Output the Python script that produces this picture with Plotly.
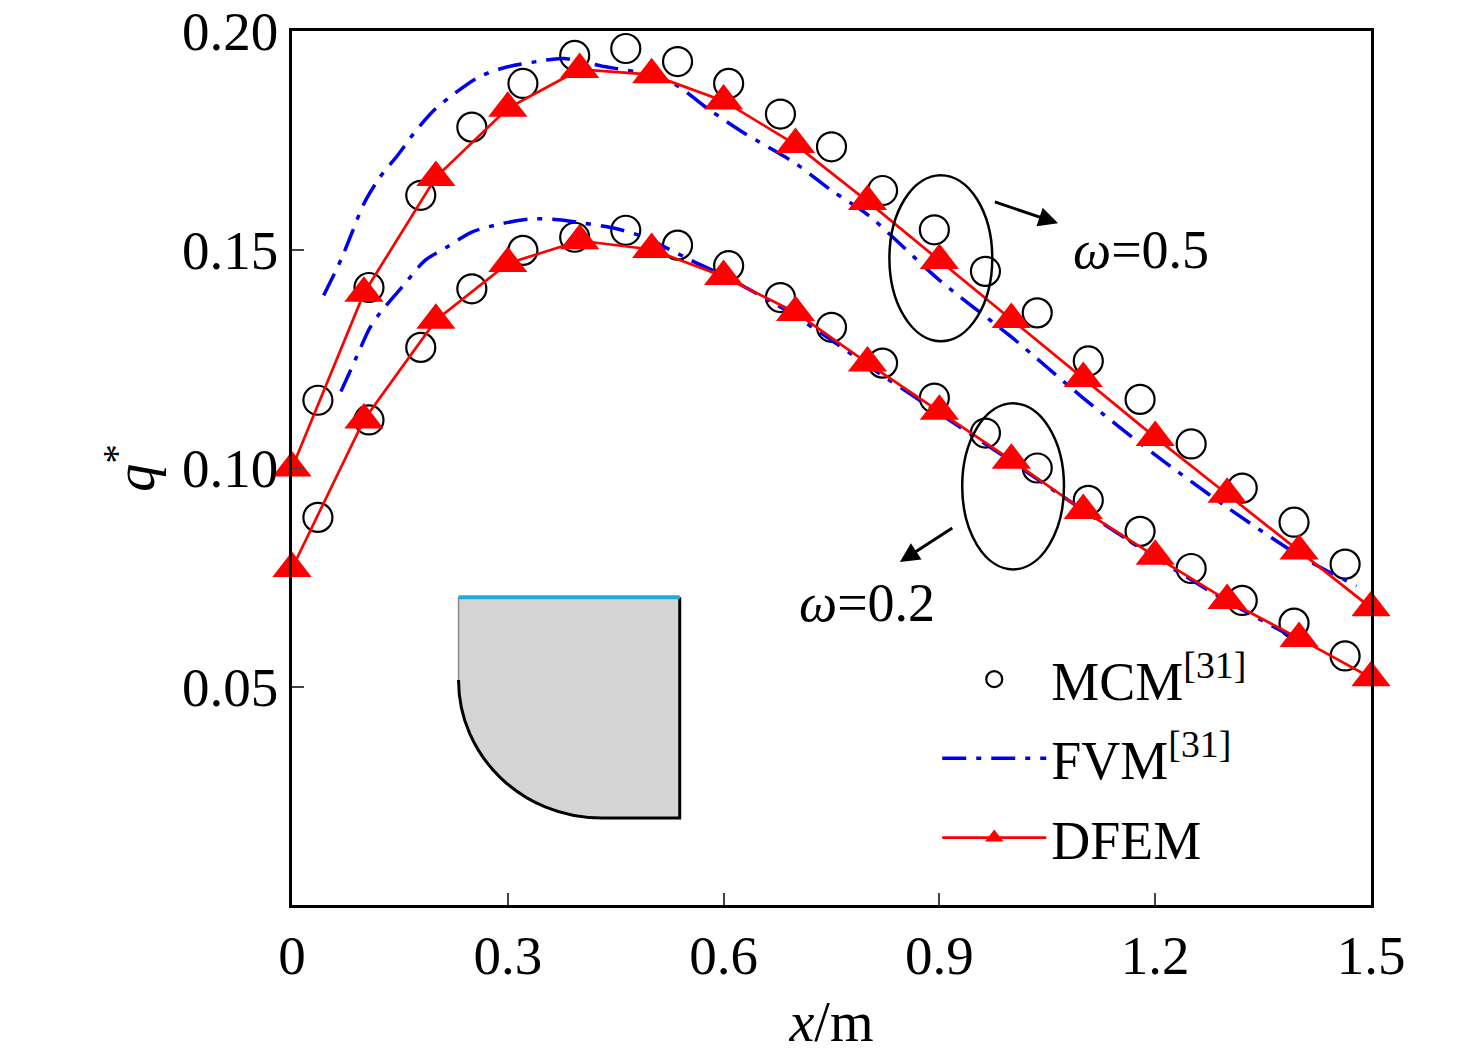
import plotly.graph_objects as go

# DFEM nodes
x_dfem = [0, 0.1, 0.2, 0.3, 0.4, 0.5, 0.6, 0.7, 0.8, 0.9, 1.0, 1.1, 1.2, 1.3, 1.4, 1.5]
dfem_05 = [0.100, 0.1400, 0.1665, 0.1823, 0.1912, 0.190, 0.184, 0.174, 0.161, 0.1475,
           0.134, 0.1205, 0.107, 0.094, 0.081, 0.068]
dfem_02 = [0.077, 0.111, 0.1338, 0.1468, 0.152, 0.150, 0.1438, 0.1356, 0.124, 0.113,
           0.1018, 0.0903, 0.0798, 0.0697, 0.061, 0.052]

# MCM points
x_mcm = [0.036, 0.107, 0.179, 0.250, 0.321, 0.393, 0.464, 0.536, 0.607, 0.679, 0.750,
         0.821, 0.893, 0.964, 1.036, 1.107, 1.179, 1.250, 1.321, 1.393, 1.464]
mcm_05 = [0.1155, 0.1413, 0.1624, 0.178, 0.188, 0.1944, 0.196, 0.193, 0.188, 0.181, 0.1735,
          0.1635, 0.1545, 0.145, 0.1355, 0.1245, 0.1157, 0.1055, 0.0954, 0.0876, 0.078]
mcm_02 = [0.0887, 0.111, 0.1276, 0.141, 0.1498, 0.1528, 0.1544, 0.151, 0.1463, 0.139, 0.1322,
          0.124, 0.116, 0.108, 0.100, 0.0926, 0.0855, 0.077, 0.0697, 0.0645, 0.057]

# FVM curves
x_fvm05 = [0.044, 0.069, 0.083, 0.10, 0.122, 0.148, 0.169, 0.197, 0.226, 0.26, 0.295, 0.34,
           0.378, 0.43, 0.48, 0.53, 0.58, 0.63, 0.70, 0.75, 0.80, 0.90, 1.00, 1.10, 1.20,
           1.30, 1.40, 1.48]
fvm_05 = [0.1395, 0.148, 0.1537, 0.1605, 0.1665, 0.1718, 0.1765, 0.1818, 0.1857, 0.1895,
          0.1916, 0.193, 0.1937, 0.192, 0.1905, 0.188, 0.182, 0.1765, 0.1697, 0.1635, 0.158,
          0.143, 0.130, 0.116, 0.103, 0.091, 0.080, 0.073]
x_fvm02 = [0.068, 0.09, 0.108, 0.122, 0.155, 0.185, 0.215, 0.25, 0.294, 0.333, 0.37, 0.406,
           0.45, 0.49, 0.525, 0.555, 0.60, 0.67, 0.73, 0.80, 0.90, 1.00, 1.10, 1.20, 1.30, 1.40]
fvm_02 = [0.1175, 0.1255, 0.132, 0.1354, 0.1418, 0.1475, 0.1505, 0.154, 0.156, 0.157, 0.1568,
          0.156, 0.1548, 0.1528, 0.150, 0.1475, 0.144, 0.1377, 0.1315, 0.1235, 0.1125, 0.1015,
          0.0903, 0.0795, 0.0695, 0.0606]

x_ticks = [0, 0.3, 0.6, 0.9, 1.2, 1.5]
x_labels = ["0", "0.3", "0.6", "0.9", "1.2", "1.5"]
y_ticks = [0.05, 0.10, 0.15, 0.20]
y_labels = ["0.05", "0.10", "0.15", "0.20"]

FONT = "Liberation Serif"
RED = "#ff0000"
BLUE = "#0000ee"

fig = go.Figure()

for i, ys in enumerate([mcm_05, mcm_02]):
    fig.add_trace(go.Scatter(x=x_mcm, y=ys, mode="markers", name="MCM<sup>[31]</sup>",
                             marker=dict(symbol="circle-open", size=29, color="black",
                                         line=dict(width=2.2, color="black")),
                             showlegend=(i == 0), legendgroup="mcm", legendrank=1))

for i, (xs, ys) in enumerate([(x_fvm05, fvm_05), (x_fvm02, fvm_02)]):
    fig.add_trace(go.Scatter(x=xs, y=ys, mode="lines", name="FVM<sup>[31]</sup>",
                             line=dict(color=BLUE, width=3.5, dash="24px,10px,5px,10px",
                                       shape="spline", smoothing=0.8),
                             showlegend=(i == 0), legendgroup="fvm", legendrank=2))

for i, ys in enumerate([dfem_05, dfem_02]):
    fig.add_trace(go.Scatter(x=x_dfem, y=ys, mode="lines+markers", name="DFEM",
                             line=dict(color=RED, width=2.7),
                             marker=dict(symbol="triangle-up", size=34, color=RED),
                             showlegend=(i == 0), legendgroup="dfem", legendrank=3,
                             cliponaxis=False))

# inset geometry (data coordinates of the small sketch)
ix0, ix1, iyt, iyb, iya, ixb = 0.2315, 0.539, 0.0704, 0.0199, 0.0515, 0.43
k = 0.5523
rx, ry = ixb - ix0, iya - iyb
fill_path = (f"M {ix0},{iyt} L {ix1},{iyt} L {ix1},{iyb} L {ixb},{iyb} "
             f"C {ixb - k*rx},{iyb} {ix0},{iya - k*ry} {ix0},{iya} Z")
fig.add_shape(type="path", path=fill_path, fillcolor="#d4d4d4", line=dict(width=0), layer="below")
fig.add_shape(type="path", path=f"M {ix0},{iya} C {ix0},{iya - k*ry} {ixb - k*rx},{iyb} {ixb},{iyb} L {ix1},{iyb} L {ix1},{iyt}",
              line=dict(color="black", width=3))
fig.add_shape(type="line", x0=ix0, x1=ix0, y0=iya, y1=iyt, line=dict(color="#888888", width=1.5))
fig.add_shape(type="line", x0=ix0, x1=ix1, y0=iyt, y1=iyt, line=dict(color="#1aaee0", width=4))

# ellipses
fig.add_shape(type="circle", x0=0.8305, x1=0.9735, y0=0.1290, y1=0.1670, line=dict(color="black", width=2.5))
fig.add_shape(type="circle", x0=0.9317, x1=1.0732, y0=0.0768, y1=0.1148, line=dict(color="black", width=2.5))

# arrows
fig.add_annotation(x=1.065, y=0.156, ax=0.975, ay=0.161, xref="x", yref="y", axref="x", ayref="y",
                   text="", showarrow=True, arrowhead=2, arrowsize=1.3, arrowwidth=3, arrowcolor="black")
fig.add_annotation(x=0.845, y=0.0785, ax=0.92, ay=0.0865, xref="x", yref="y", axref="x", ayref="y",
                   text="", showarrow=True, arrowhead=2, arrowsize=1.3, arrowwidth=3, arrowcolor="black")

fig.add_annotation(x=1.18, y=0.150, text="<i>ω</i>=0.5", showarrow=False, xanchor="center",
                   font=dict(family=FONT, size=54, color="black"))
fig.add_annotation(x=0.80, y=0.069, text="<i>ω</i>=0.2", showarrow=False, xanchor="center",
                   font=dict(family=FONT, size=54, color="black"))

fig.update_layout(
    width=1476, height=1063,
    margin=dict(l=284, r=113, t=23, b=166),
    paper_bgcolor="white", plot_bgcolor="white",
    font=dict(family=FONT, size=55, color="black"),
    showlegend=True,
    legend=dict(x=0.598, y=0.306, xanchor="left", yanchor="top", bgcolor="rgba(0,0,0,0)",
                font=dict(family=FONT, size=54), tracegroupgap=6, itemwidth=104),
    xaxis=dict(range=[0, 1.5], tickvals=x_ticks, ticktext=x_labels, ticks="inside", ticklen=12,
               tickwidth=2, showline=True, linewidth=2.5, linecolor="black", mirror=True,
               showgrid=False, zeroline=False, tickfont=dict(size=55), automargin=False,
               ticklabeloverflow="allow",
               title=dict(text="<i>x</i>/m", font=dict(family=FONT, size=56), standoff=18)),
    yaxis=dict(range=[0, 0.2], tickvals=y_ticks, ticktext=y_labels, ticks="inside", ticklen=12,
               tickwidth=2, showline=True, linewidth=2.5, linecolor="black", mirror=True,
               showgrid=False, zeroline=False, tickfont=dict(size=55), automargin=False,
               ticklabeloverflow="allow",
               title=dict(text="<i>q</i><sup>*</sup>", font=dict(family=FONT, size=56), standoff=10)),
)

fig.write_html("out.html")
